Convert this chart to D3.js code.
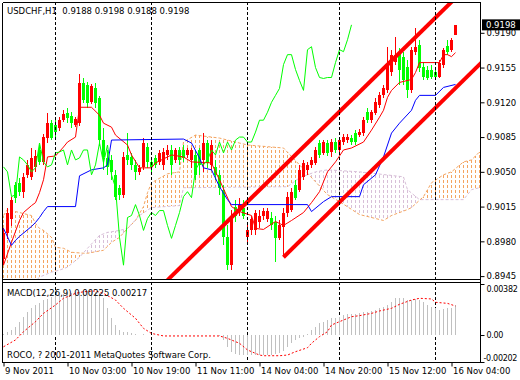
<!DOCTYPE html>
<html>
<head>
<meta charset="utf-8">
<script src="https://cdn.jsdelivr.net/npm/d3@7"></script>
<style>
	body { margin: 0; background: #fff; }
	svg { display: block; }
	text { font-family: "DejaVu Sans", sans-serif; font-size: 8.5px; fill: #000; }
	.macd-axis text { font-size: 8px; letter-spacing: -0.3px; }
</style>
</head>
<body>
<svg id="chart" width="520" height="380"></svg>
<script>
// USDCHF H1 bars, index 0 = 9 Nov 11:00
const opens = [
	0.8962, 0.8988, 0.9003, 0.9037, 0.9039, 0.9030, 0.9047, 0.9045, 0.9055, 0.9072,
	0.9060, 0.9084, 0.9099, 0.9097, 0.9094, 0.9102, 0.9109, 0.9106, 0.9097, 0.9099,
	0.9139, 0.9137, 0.9120, 0.9134, 0.9124, 0.9082, 0.9064, 0.9062, 0.9047, 0.9034,
	0.9027, 0.9067, 0.9065, 0.9057, 0.9050, 0.9055, 0.9075, 0.9060, 0.9064, 0.9060,
	0.9057, 0.9067, 0.9072, 0.9062, 0.9072, 0.9072, 0.9067, 0.9062, 0.9067, 0.9072,
	0.9062, 0.9079, 0.9057, 0.9055, 0.9047, 0.9032, 0.8984, 0.8956, 0.9015, 0.9012,
	0.9014, 0.8984, 0.8991, 0.8991, 0.8999, 0.9006, 0.9003, 0.9004, 0.8999, 0.8983,
	0.8994, 0.9009, 0.9012, 0.9037, 0.9032, 0.9045, 0.9052, 0.9057, 0.9059, 0.9079,
	0.9069, 0.9079, 0.9070, 0.9080, 0.9072, 0.9080, 0.9082, 0.9084, 0.9089, 0.9087,
	0.9089, 0.9110, 0.9102, 0.9109, 0.9117, 0.9127, 0.9132, 0.9151, 0.9161, 0.9170,
	0.9166, 0.9156, 0.9132, 0.9171, 0.9178, 0.9156, 0.9153, 0.9153, 0.9151, 0.9145,
	0.9158, 0.9177, 0.9173, 0.9188,
];
const highs = [
	0.8993, 0.9014, 0.9025, 0.9040, 0.9044, 0.9049, 0.9062, 0.9074, 0.9072, 0.9077,
	0.9088, 0.9109, 0.9102, 0.9104, 0.9105, 0.9112, 0.9114, 0.9110, 0.9105, 0.9149,
	0.9144, 0.9140, 0.9138, 0.9139, 0.9126, 0.9094, 0.9072, 0.9067, 0.9052, 0.9037,
	0.9070, 0.9089, 0.9069, 0.9062, 0.9057, 0.9084, 0.9079, 0.9064, 0.9067, 0.9072,
	0.9074, 0.9077, 0.9077, 0.9074, 0.9075, 0.9077, 0.9074, 0.9074, 0.9072, 0.9074,
	0.9089, 0.9082, 0.9082, 0.9062, 0.9052, 0.9037, 0.8996, 0.9012, 0.9022, 0.9024,
	0.9022, 0.8996, 0.9006, 0.9012, 0.9012, 0.9014, 0.9014, 0.9010, 0.9006, 0.9001,
	0.9014, 0.9030, 0.9034, 0.9042, 0.9057, 0.9062, 0.9060, 0.9065, 0.9075, 0.9082,
	0.9082, 0.9082, 0.9083, 0.9084, 0.9085, 0.9088, 0.9088, 0.9087, 0.9092, 0.9093,
	0.9105, 0.9114, 0.9112, 0.9124, 0.9130, 0.9137, 0.9176, 0.9173, 0.9186, 0.9175,
	0.9171, 0.9163, 0.9176, 0.9195, 0.9183, 0.9161, 0.9157, 0.9158, 0.9155, 0.9163,
	0.9175, 0.9183, 0.9185, 0.9198,
];
const lows = [
	0.8956, 0.8982, 0.8995, 0.9019, 0.9026, 0.9024, 0.9044, 0.9042, 0.9050, 0.9057,
	0.9057, 0.9079, 0.9082, 0.9084, 0.9091, 0.9100, 0.9099, 0.9094, 0.9095, 0.9096,
	0.9119, 0.9114, 0.9118, 0.9114, 0.9076, 0.9052, 0.9047, 0.9042, 0.9022, 0.9022,
	0.9024, 0.9057, 0.9052, 0.9042, 0.9047, 0.9052, 0.9054, 0.9050, 0.9054, 0.9057,
	0.9052, 0.9062, 0.9047, 0.9059, 0.9057, 0.9060, 0.9064, 0.9054, 0.9042, 0.9047,
	0.9050, 0.9054, 0.9052, 0.9042, 0.9027, 0.8976, 0.8951, 0.8951, 0.8999, 0.9006,
	0.9003, 0.8976, 0.8986, 0.8986, 0.8993, 0.9001, 0.8999, 0.8991, 0.8959, 0.8981,
	0.8964, 0.9005, 0.9010, 0.9022, 0.9030, 0.9042, 0.9047, 0.9054, 0.9057, 0.9064,
	0.9067, 0.9066, 0.9065, 0.9069, 0.9069, 0.9077, 0.9079, 0.9077, 0.9077, 0.9085,
	0.9086, 0.9099, 0.9099, 0.9107, 0.9114, 0.9124, 0.9129, 0.9147, 0.9158, 0.9137,
	0.9137, 0.9124, 0.9129, 0.9168, 0.9151, 0.9142, 0.9142, 0.9143, 0.9142, 0.9144,
	0.9155, 0.9168, 0.9171, 0.9188,
];
const closes = [
	0.8988, 0.9009, 0.9022, 0.9024, 0.9030, 0.9045, 0.9057, 0.9064, 0.9066, 0.9060,
	0.9085, 0.9099, 0.9084, 0.9090, 0.9102, 0.9108, 0.9104, 0.9099, 0.9103, 0.9139,
	0.9122, 0.9119, 0.9136, 0.9119, 0.9082, 0.9065, 0.9055, 0.9050, 0.9025, 0.9027,
	0.9065, 0.9062, 0.9057, 0.9050, 0.9054, 0.9079, 0.9060, 0.9055, 0.9057, 0.9069,
	0.9070, 0.9072, 0.9057, 0.9072, 0.9062, 0.9064, 0.9072, 0.9072, 0.9047, 0.9057,
	0.9079, 0.9059, 0.9077, 0.9047, 0.9034, 0.8984, 0.8956, 0.9004, 0.9006, 0.9017,
	0.9006, 0.8991, 0.9003, 0.9009, 0.9006, 0.9011, 0.9011, 0.8996, 0.8983, 0.8996,
	0.9009, 0.9025, 0.9030, 0.9024, 0.9052, 0.9059, 0.9057, 0.9062, 0.9072, 0.9067,
	0.9080, 0.9069, 0.9080, 0.9072, 0.9082, 0.9085, 0.9085, 0.9080, 0.9080, 0.9090,
	0.9102, 0.9102, 0.9110, 0.9120, 0.9127, 0.9134, 0.9158, 0.9168, 0.9168, 0.9153,
	0.9142, 0.9132, 0.9173, 0.9176, 0.9155, 0.9145, 0.9144, 0.9145, 0.9145, 0.9160,
	0.9173, 0.9171, 0.9183, 0.9198,
];

// Ichimoku lines as [bar, price]
const tenkan = [
	[0, 0.8956], [2, 0.8979], [4, 0.9001], [5, 0.9009], [7, 0.9016], [8, 0.9019], [9, 0.9029],
	[10, 0.9042], [11, 0.9065], [13, 0.9066], [15, 0.9075], [16, 0.9080], [18, 0.9085],
	[19, 0.9115], [22, 0.9115], [24, 0.9107], [25, 0.9099], [27, 0.9095], [28, 0.9087],
	[31, 0.9077], [32, 0.9067], [34, 0.9054], [37, 0.9054], [38, 0.9059], [42, 0.9067],
	[45, 0.9065], [47, 0.9060], [52, 0.9059], [53, 0.9050], [54, 0.9042], [57, 0.9015],
	[59, 0.9010], [62, 0.9006], [63, 0.8993], [65, 0.8992], [68, 0.9000], [70, 0.8996],
	[72, 0.9001], [75, 0.9009], [77, 0.9019], [79, 0.9030], [81, 0.9050], [83, 0.9060],
	[85, 0.9072], [87, 0.9074], [90, 0.9080], [92, 0.9092], [94, 0.9105], [95, 0.9112],
	[96, 0.9125], [97, 0.9132], [99, 0.9140], [102, 0.9143], [103, 0.9150], [104, 0.9160],
	[109, 0.9160], [110, 0.9168], [111, 0.9168], [112, 0.9166], [113, 0.9170],
];
const kijun = [
	[0, 0.8993], [2, 0.8976], [3, 0.8981], [4, 0.8985], [7, 0.8995], [8, 0.8999], [9, 0.9004],
	[10, 0.9010], [11, 0.9015], [18, 0.9015], [19, 0.9046], [22, 0.9052], [25, 0.9054],
	[26, 0.9057], [27, 0.9082], [45, 0.9083], [47, 0.9079], [49, 0.9064], [50, 0.9054],
	[52, 0.9052], [54, 0.9035], [56, 0.9022], [57, 0.9017], [76, 0.9017], [77, 0.9010],
	[80, 0.9020], [82, 0.9025], [89, 0.9025], [90, 0.9037], [93, 0.9047], [95, 0.9065],
	[97, 0.9089], [99, 0.9099], [102, 0.9112], [103, 0.9122], [104, 0.9127], [108, 0.9127],
	[110, 0.9135], [113, 0.9138],
];
const senkouA = [
	[0, 0.9006], [1, 0.9012], [4, 0.9009], [7, 0.9006], [8, 0.8998], [9, 0.8993], [10, 0.8991],
	[12, 0.8984], [13, 0.8974], [15, 0.8973], [17, 0.8969], [20, 0.8968], [21, 0.8968],
	[25, 0.8971], [27, 0.8979], [29, 0.8984], [31, 0.8993], [33, 0.9001], [35, 0.9015],
	[36, 0.9029], [37, 0.9039], [41, 0.9048], [44, 0.9050], [45, 0.9080], [48, 0.9087],
	[54, 0.9084], [61, 0.9077], [70, 0.9074], [74, 0.9057], [78, 0.9040], [81, 0.9027],
	[84, 0.9020], [89, 0.9007], [95, 0.9001], [97, 0.9006], [101, 0.9012], [102, 0.9014],
	[105, 0.9025], [107, 0.9039], [110, 0.9047], [112, 0.9050], [115, 0.9060], [117, 0.9062],
	[119, 0.9070],
];
const senkouB = [
	[0, 0.8921], [7, 0.8936], [9, 0.8944], [12, 0.8949], [14, 0.8951], [16, 0.8954],
	[19, 0.8964], [21, 0.8973], [24, 0.8986], [26, 0.8989], [29, 0.8991], [31, 0.8993],
	[34, 0.9006], [37, 0.9014], [44, 0.9016], [45, 0.9034], [71, 0.9035], [74, 0.9044],
	[78, 0.9050], [81, 0.9052], [89, 0.9050], [100, 0.9045], [101, 0.9032], [104, 0.9022],
	[115, 0.9022], [117, 0.9032], [119, 0.9034],
];

// trend channel, [bar, price]
const channelUpper = [[41, 0.8941], [113, 0.9225]];
const channelLower = [[70, 0.8964], [120, 0.9162]];

// MACD(12,26,9) main values per bar and signal line
const macdMain = [
	0.00005, 0.00020, 0.00037, 0.00062, 0.00100, 0.00137, 0.00175, 0.00200, 0.00225, 0.00237,
	0.00262, 0.00270, 0.00287, 0.00300, 0.00300, 0.00305, 0.00312, 0.00312, 0.00320, 0.00324,
	0.00330, 0.00330, 0.00330, 0.00324, 0.00312, 0.00275, 0.00200, 0.00125, 0.00075, 0.00037,
	0.00025, 0.00020, 0.00012, 0.00005, 0.00003, 0.00004, 0.00002, 0.00000, -0.00001, 0.00001,
	0.00002, 0.00002, 0.00001, 0.00001, 0.00001, 0.00001, 0.00001, 0.00001, 0.00000, 0.00000,
	0.00001, 0.00001, 0.00001, -0.00002, -0.00010, -0.00037, -0.00088, -0.00125, -0.00145, -0.00150,
	-0.00150, -0.00150, -0.00150, -0.00150, -0.00150, -0.00150, -0.00150, -0.00150, -0.00145, -0.00137,
	-0.00120, -0.00088, -0.00062, -0.00037, -0.00025, -0.00012, 0.00005, 0.00037, 0.00062, 0.00088,
	0.00100, 0.00112, 0.00125, 0.00130, 0.00137, 0.00150, 0.00155, 0.00155, 0.00157, 0.00163,
	0.00170, 0.00175, 0.00180, 0.00190, 0.00200, 0.00212, 0.00225, 0.00250, 0.00275, 0.00275,
	0.00275, 0.00262, 0.00262, 0.00270, 0.00262, 0.00250, 0.00225, 0.00212, 0.00200, 0.00187,
	0.00195, 0.00200, 0.00205, 0.00225,
];
const macdSignal = [
	[0, -0.00088], [3, -0.00037], [5, 0.00025], [8, 0.00100], [10, 0.00162], [13, 0.00225],
	[15, 0.00275], [18, 0.00312], [20, 0.00324], [23, 0.00330], [25, 0.00312], [28, 0.00262],
	[30, 0.00200], [33, 0.00125], [35, 0.00050], [37, 0.00012], [40, -0.00007], [54, -0.00007],
	[56, -0.00025], [59, -0.00062], [61, -0.00112], [64, -0.00150], [65, -0.00155], [69, -0.00155],
	[71, -0.00150], [73, -0.00125], [76, -0.00095], [77, -0.00062], [79, -0.00012], [81, 0.00025],
	[82, 0.00075], [84, 0.00100], [87, 0.00137], [89, 0.00145], [92, 0.00162], [94, 0.00180],
	[97, 0.00200], [99, 0.00230], [102, 0.00262], [104, 0.00275], [107, 0.00270], [108, 0.00245],
	[111, 0.00237], [113, 0.00217],
];

const priceTicks = [0.9190, 0.9155, 0.9120, 0.9085, 0.9050, 0.9015, 0.8980, 0.8945];
const macdTicks = [0.00382, 0, -0.00202];
const timeTicks = [0, 16, 32, 48, 64, 80, 96, 112];
const timeLabels = ['9 Nov 2011', '10 Nov 03:00', '10 Nov 19:00', '11 Nov 11:00',
	'14 Nov 04:00', '14 Nov 20:00', '15 Nov 12:00', '16 Nov 04:00'];
const daySeparators = [13, 37, 61, 84, 108];
const chikouShift = 26;

const svg = d3.select('#chart');
const left = 2;
const right = 480;
const mainTop = 2;
const mainBottom = 279;
const subTop = 282;
const subBottom = 362;

const x = d3.scaleLinear().domain([0, 119.25]).range([3, 480]);
const y = d3.scaleLinear().domain([0.8945, 0.9190]).range([276.1, 32.8]);
const yM = d3.scaleLinear().domain([-0.00202, 0.00382]).range([362, 284]);
const px = i => x(i) + 0.5;

const defs = svg.append('defs');
defs.append('clipPath').attr('id', 'clipMain')
	.append('rect').attr('x', left + 1).attr('y', mainTop + 1)
	.attr('width', right - left - 1).attr('height', mainBottom - mainTop - 1);

const lineP = d3.line().x(d => px(d[0])).y(d => y(d[1]));

// where a drawn span line passes at bar i
function spanAt(series, i) {
	const k = Math.max(1, d3.bisector(d => d[0]).left(series, i));
	const [i0, v0] = series[k - 1];
	const [i1, v1] = series[Math.min(k, series.length - 1)];
	return i1 === i0 ? v0 : v0 + (v1 - v0) * (i - i0) / (i1 - i0);
}

// Kumo: dotted column at every bar between senkou A and B
const clampY = v => Math.max(mainTop + 1, Math.min(mainBottom, v));
const kumo = d3.range(0, 120).map(i => {
	const a = spanAt(senkouA, i);
	const b = spanAt(senkouB, i);
	return { i, top: clampY(y(Math.max(a, b))), bottom: clampY(y(Math.min(a, b))), up: a >= b };
});
svg.append('g').attr('shape-rendering', 'crispEdges')
	.selectAll('line').data(kumo).join('line')
	.attr('x1', d => px(d.i)).attr('x2', d => px(d.i))
	.attr('y1', d => d.top).attr('y2', d => d.bottom)
	.attr('stroke', d => d.up ? '#f4a460' : '#d8bfd8')
	.attr('stroke-dasharray', '3,2')
	.attr('stroke-dashoffset', d => d.top % 5);

const gMain = svg.append('g').attr('clip-path', 'url(#clipMain)');
gMain.append('path').datum(senkouA).attr('d', lineP)
	.attr('fill', 'none').attr('stroke', '#f4a460').attr('stroke-dasharray', '3,2');
gMain.append('path').datum(senkouB).attr('d', lineP)
	.attr('fill', 'none').attr('stroke', '#d8bfd8').attr('stroke-dasharray', '3,2');

// period separators
svg.append('g').attr('shape-rendering', 'crispEdges')
	.selectAll('line').data(daySeparators).join('line')
	.attr('x1', d => px(d)).attr('x2', d => px(d))
	.attr('y1', mainTop).attr('y2', subBottom)
	.attr('stroke', '#000').attr('stroke-dasharray', '3,2');

// candles (red = up, lime = down)
const bars = d3.range(opens.length);
const candleColor = i => closes[i] >= opens[i] ? '#ff0000' : '#00ff00';
const gCandles = gMain.append('g').attr('shape-rendering', 'crispEdges');
gCandles.selectAll('line').data(bars).join('line')
	.attr('x1', i => px(i)).attr('x2', i => px(i))
	.attr('y1', i => y(highs[i])).attr('y2', i => y(lows[i]))
	.attr('stroke', candleColor);
gCandles.selectAll('rect').data(bars).join('rect')
	.attr('x', i => x(i) - 1).attr('width', 3)
	.attr('y', i => y(Math.max(opens[i], closes[i])))
	.attr('height', i => Math.max(1, Math.abs(y(opens[i]) - y(closes[i]))))
	.attr('fill', candleColor);

// Ichimoku lines
const chikou = closes.slice(chikouShift).map((c, j) => [j, c]);
[[tenkan, '#ff0000'], [kijun, '#0000ff'], [chikou, '#00ff00']].forEach(([data, color]) => {
	gMain.append('path').datum(data).attr('d', lineP)
		.attr('fill', 'none').attr('stroke', color).attr('stroke-width', 1);
});

// trend channel
[channelUpper, channelLower].forEach(data => {
	gMain.append('path').datum(data).attr('d', lineP)
		.attr('fill', 'none').attr('stroke', '#ff0000').attr('stroke-width', 4);
});

// MACD window
svg.append('g').attr('shape-rendering', 'crispEdges')
	.selectAll('line').data(bars).join('line')
	.attr('x1', i => px(i)).attr('x2', i => px(i))
	.attr('y1', yM(0)).attr('y2', i => yM(macdMain[i]))
	.attr('stroke', '#c0c0c0');
svg.append('path').datum(macdSignal)
	.attr('d', d3.line().x(d => px(d[0])).y(d => yM(d[1])))
	.attr('fill', 'none').attr('stroke', '#ff0000').attr('stroke-dasharray', '2,2');

// frames
const frame = svg.append('g').attr('stroke', '#000').attr('shape-rendering', 'crispEdges');
[[left, mainTop, right, mainTop], [left, mainTop, left, subBottom], [left, mainBottom, right, mainBottom],
	[left, subTop, right, subTop], [left, subBottom, right, subBottom], [right, mainTop, right, subBottom]]
	.forEach(([x1, y1, x2, y2]) => {
		frame.append('line').attr('x1', x1 + 0.5).attr('y1', y1 + 0.5).attr('x2', x2 + 0.5).attr('y2', y2 + 0.5);
	});

// price axis
const axPrice = svg.append('g').attr('transform', `translate(${right + 0.5},0)`)
	.call(d3.axisRight(y).tickValues(priceTicks).tickSize(4).tickPadding(2).tickFormat(d3.format('.4f')));
axPrice.select('.domain').remove();

// current price label
const last = closes[closes.length - 1];
svg.append('rect').attr('x', right + 2).attr('y', y(last) - 5.5).attr('width', 38).attr('height', 11).attr('fill', '#000');
svg.append('text').attr('x', right + 6).attr('y', y(last)).attr('dy', '0.35em')
	.style('fill', '#fff').text(d3.format('.4f')(last));

// MACD axis
const axMacd = svg.append('g').attr('class', 'macd-axis').attr('transform', `translate(${right + 0.5},0)`)
	.call(d3.axisRight(yM).tickValues(macdTicks).tickSize(4).tickPadding(2)
		.tickFormat(d => d === 0 ? '0.00' : d.toFixed(5)));
axMacd.select('.domain').remove();
axMacd.selectAll('text')
	.attr('x', d => d < 0 ? 3 : 6)
	.attr('dy', d => d > 0 ? '0.95em' : d < 0 ? '-0.25em' : '0.32em');

// time axis
const axTime = svg.append('g').attr('transform', `translate(0,${subBottom + 0.5})`)
	.call(d3.axisBottom(x).tickValues(timeTicks).tickSize(4)
		.tickFormat((d, k) => timeLabels[k]));
axTime.select('.domain').remove();
axTime.selectAll('.tick line').attr('transform', 'translate(0.5,0)');
axTime.selectAll('text').attr('text-anchor', 'start').attr('x', 1.5).attr('y', 5);

// captions
svg.append('text').attr('x', 7).attr('y', 14).attr('xml:space', 'preserve')
	.text('USDCHF,H1  0.9188 0.9198 0.9188 0.9198');
svg.append('text').attr('x', 7).attr('y', 296).text('MACD(12,26,9) 0.00225 0.00217');
svg.append('text').attr('x', 7).attr('y', 358).text('ROCO, ? 2001-2011 MetaQuotes Software Corp.');
</script>
</body>
</html>
